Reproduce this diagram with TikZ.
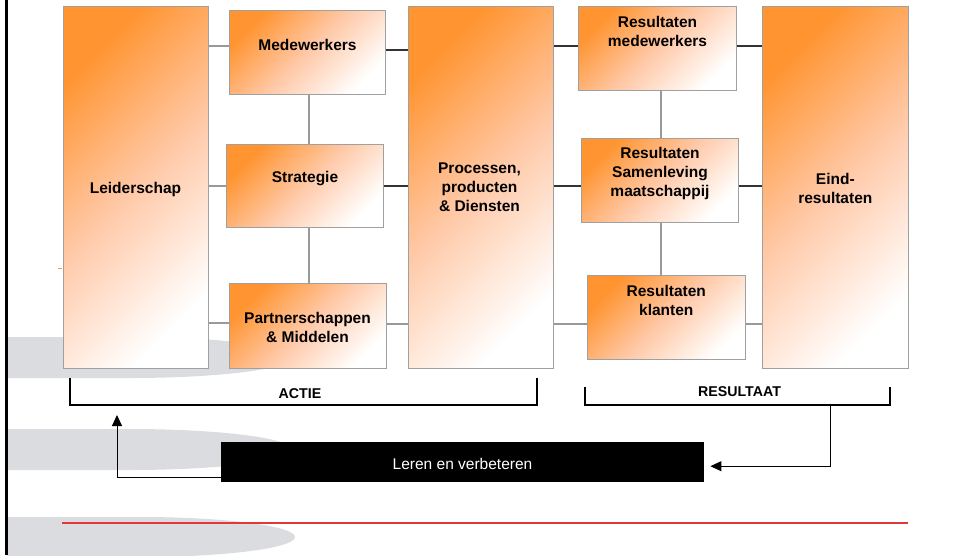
\documentclass[tikz,border=0pt]{standalone}
\usepackage{fontspec}
\setmainfont{Liberation Sans}
\usetikzlibrary{arrows.meta}

\definecolor{boxorange}{HTML}{FF9430}
\definecolor{boxpeach}{HTML}{FFC9A8}
\definecolor{boxedge}{HTML}{A0A0A0}
\definecolor{linkgray}{HTML}{999999}
\definecolor{linkdark}{HTML}{333333}
\definecolor{swoosh}{HTML}{DBDCDF}
\definecolor{rulered}{HTML}{E23838}

\tikzset{
  panel/.style={draw=boxedge, line width=1.2pt, anchor=north west, inner sep=0pt,
    top color=boxorange, bottom color=white, middle color=boxpeach, shading angle=45},
  boxtext/.style={font=\bfseries\fontsize{15.5}{19}\selectfont, align=center, inner sep=0pt},
  grouptext/.style={font=\bfseries\fontsize{14.2}{17}\selectfont, inner sep=0pt, anchor=base},
  link/.style={draw=linkgray, line width=1.1pt},
  darklink/.style={draw=linkdark, line width=1.1pt},
  bracket/.style={draw=black, line width=2.2pt, line join=miter},
  flow/.style={draw=black, line width=1pt, -{Triangle[length=11pt,width=10pt]}},
  learnbox/.style={fill=black, draw=none, anchor=north west, inner sep=0pt},
}

\begin{document}
\begin{tikzpicture}[x=1pt, y=1pt]
\useasboundingbox (0,0) rectangle (957,-555);

% grey swooshes in the background, starting at the frame line
\fill[swoosh] (7,-337) -- (130,-337) arc[start angle=90, end angle=-90, x radius=162, y radius=20.5] -- (7,-378) -- cycle;
\fill[swoosh] (7,-429) -- (130,-429) arc[start angle=90, end angle=-90, x radius=162, y radius=20.5] -- (7,-470) -- cycle;
\fill[swoosh] (7,-517) -- (140,-517) arc[start angle=90, end angle=-90, x radius=155, y radius=20] -- (7,-557) -- cycle;

% left frame line
\draw[line width=3pt] (6,0) -- (6,-555);

% enabler and result boxes
\node[panel, minimum width=145pt, minimum height=362pt] (lead)     at (63,-6)   {};
\node[panel, minimum width=156pt, minimum height=84pt]  (med)      at (229,-10) {};
\node[panel, minimum width=157pt, minimum height=83pt]  (strat)    at (226,-144) {};
\node[panel, minimum width=157pt, minimum height=85pt]  (partner)  at (229,-283) {};
\node[panel, minimum width=145pt, minimum height=362pt] (proc)     at (408,-6)  {};
\node[panel, minimum width=158pt, minimum height=84pt]  (resmed)   at (578,-6)  {};
\node[panel, minimum width=157pt, minimum height=84pt]  (ressam)   at (581,-138) {};
\node[panel, minimum width=158pt, minimum height=84pt]  (resklant) at (587,-275) {};
\node[panel, minimum width=146pt, minimum height=362pt] (eind)     at (762,-6)  {};

\draw[boxorange, line width=1pt] (58,-268) -- (62,-268);

% box labels
\node[boxtext, anchor=base]  (lead-t)     at (135.5,-193)   {Leiderschap};
\node[boxtext, anchor=base]  (med-t)      at (307.5,-50)    {Medewerkers};
\node[boxtext, anchor=base]  (strat-t)    at (305,-182.5)   {Strategie};
\node[boxtext, anchor=north] (partner-t)  at (307.5,-311.8) {Partnerschappen\\\& Middelen};
\node[boxtext, anchor=north] (proc-t)     at (479.5,-162.3) {Processen,\\producten\\\& Diensten};
\node[boxtext, anchor=north] (resmed-t)   at (657.5,-15.8)  {Resultaten\\medewerkers};
\node[boxtext, anchor=north] (ressam-t)   at (660,-147)     {Resultaten\\Samenleving\\maatschappij};
\node[boxtext, anchor=north] (resklant-t) at (666.3,-284.7) {Resultaten\\klanten};
\node[boxtext, anchor=north] (eind-t)     at (835.3,-173.3) {Eind-\\resultaten};

% connectors between the boxes
\draw[link]     (lead.east |- 0,-46)  -- (med.west |- 0,-46);
\draw[link]     (lead.east |- 0,-186) -- (strat.west |- 0,-186);
\draw[link]     (lead.east |- 0,-323) -- (partner.west |- 0,-323);
\draw[link]     (med.south -| 309,0)  -- (strat.north -| 309,0);
\draw[link]     (strat.south -| 309,0) -- (partner.north -| 309,0);
\draw[darklink] (med.east |- 0,-50)   -- (proc.west |- 0,-50);
\draw[darklink] (strat.east |- 0,-186) -- (proc.west |- 0,-186);
\draw[link]     (partner.east |- 0,-324) -- (proc.west |- 0,-324);
\draw[darklink] (proc.east |- 0,-46)  -- (resmed.west |- 0,-46);
\draw[darklink] (proc.east |- 0,-186) -- (ressam.west |- 0,-186);
\draw[link]     (proc.east |- 0,-324) -- (resklant.west |- 0,-324);
\draw[darklink] (resmed.east |- 0,-46) -- (eind.west |- 0,-46);
\draw[darklink] (ressam.east |- 0,-186) -- (eind.west |- 0,-186);
\draw[link]     (resklant.east |- 0,-324) -- (eind.west |- 0,-324);
\draw[link]     (resmed.south -| 661,0) -- (ressam.north -| 661,0);
\draw[link]     (ressam.south -| 661,0) -- (resklant.north -| 661,0);

% group brackets
\coordinate (actieTL) at (70,-378);
\coordinate (actieBR) at (537,-405);
\coordinate (actieTR) at (537,-378);
\draw[bracket] (actieTL) |- (actieBR) -- (actieTR);
\node[grouptext] (actie) at (300,-398) {ACTIE};

\coordinate (resTL) at (585,-387);
\coordinate (resBR) at (890,-405);
\coordinate (resTR) at (890,-387);
\draw[bracket] (resTL) |- (resBR) -- (resTR);
\node[grouptext] (resultaat) at (739.5,-396.7) {RESULTAAT};

% learning loop
\node[learnbox, minimum width=483pt, minimum height=40pt] (learn) at (221,-442) {};
\node[font=\fontsize{15.5}{19}\selectfont, text=white, inner sep=0pt, anchor=base] (learn-t) at (462.5,-469) {Leren en verbeteren};

\coordinate (resTap) at (830,-405);
\coordinate (actieUp) at (117,-415);
\draw[flow, shorten >=6pt] (resTap) |- ([yshift=-4pt]learn.east);
\draw[flow] ([yshift=-15pt]learn.west) -| (actieUp);

% red footer rule
\draw[rulered, line width=2pt] (62,-523) -- (908,-523);
\end{tikzpicture}
\end{document}
